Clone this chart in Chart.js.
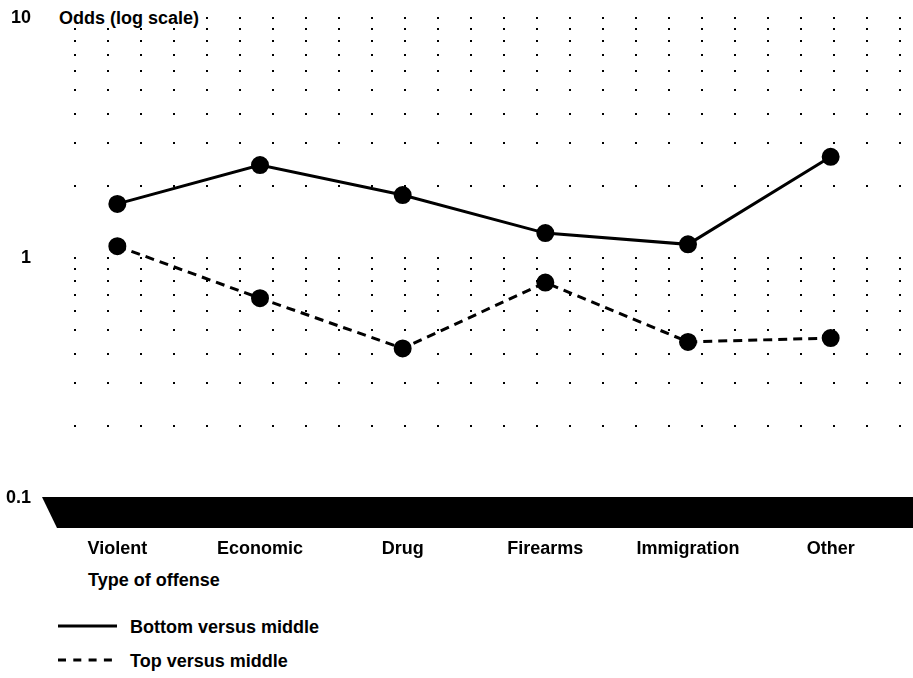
<!DOCTYPE html>
<html>
<head>
<meta charset="utf-8">
<script src="https://cdn.jsdelivr.net/npm/chart.js@4/dist/chart.umd.min.js"></script>
<style>
  body { margin: 0; background: #fff; font-family: "Liberation Sans", Arial, sans-serif; font-weight: bold; font-size: 18px; color: #000; }
  #wrap { position: absolute; left: 0; top: 0; width: 913px; height: 570px; }
  .txt { position: absolute; line-height: 20px; white-space: nowrap; }
  #ytitle { left: 40px; top: 8px; padding-left: 19px; padding-right: 6px; background: #fff; }
  #xtitle { left: 88px; top: 570px; }
  .leg { position: absolute; left: 58px; height: 20px; }
  .leg svg { position: absolute; left: 0; top: 0; }
  .leg span { position: absolute; left: 72px; top: 0; line-height: 20px; white-space: nowrap; }
</style>
</head>
<body>
<div id="wrap"><canvas id="oddsChart"></canvas></div>
<div class="txt" id="ytitle">Odds (log scale)</div>
<div class="txt" id="xtitle">Type of offense</div>
<div class="leg" style="top:617px">
  <svg width="60" height="20"><line x1="0" y1="9" x2="59" y2="9" stroke="#000" stroke-width="3"/></svg>
  <span>Bottom versus middle</span>
</div>
<div class="leg" style="top:651px">
  <svg width="60" height="20"><line x1="0" y1="9" x2="59" y2="9" stroke="#000" stroke-width="3" stroke-dasharray="8 7.3"/></svg>
  <span>Top versus middle</span>
</div>
<script>
// Odds by type of offense (log scale)
const offenses = ["Violent", "Economic", "Drug", "Firearms", "Immigration", "Other"];
const bottomVsMiddle = [1.68, 2.44, 1.83, 1.27, 1.14, 2.64];
const topVsMiddle = [1.12, 0.68, 0.42, 0.79, 0.447, 0.464];

// y ticks: every 1..9 step of each decade, labels only on the decades
const yTicks = [0.1, 0.2, 0.3, 0.4, 0.5, 0.6, 0.7, 0.8, 0.9, 1, 2, 3, 4, 5, 6, 7, 8, 9, 10];
const yLabels = { 0.1: "0.1", 1: "1", 10: "10" };

// thick black base band under the 0.1 line
const baseBand = {
    id: 'baseBand',
    beforeDatasetsDraw(chart) {
        const { ctx, chartArea, scales } = chart;
        const y0 = scales.y.getPixelForValue(0.1) - 1;
        ctx.save();
        ctx.fillStyle = '#000';
        ctx.beginPath();
        ctx.moveTo(chartArea.left - 4, y0);
        ctx.lineTo(chart.width, y0);
        ctx.lineTo(chart.width, y0 + 31);
        ctx.lineTo(chartArea.left + 11, y0 + 31);
        ctx.closePath();
        ctx.fill();
        ctx.restore();
    }
};

Chart.defaults.font.family = '"Liberation Sans", Arial, sans-serif';
Chart.defaults.font.size = 18;
Chart.defaults.font.weight = 'bold';
Chart.defaults.color = '#000';

new Chart(document.getElementById('oddsChart'), {
    type: 'line',
    data: {
        labels: offenses,
        datasets: [{
            label: 'Bottom versus middle',
            data: bottomVsMiddle,
            borderColor: '#000',
            backgroundColor: '#000',
            borderWidth: 3,
            pointRadius: 7.5,
            pointHoverRadius: 7.5,
            tension: 0
        }, {
            label: 'Top versus middle',
            data: topVsMiddle,
            borderColor: '#000',
            backgroundColor: '#000',
            borderWidth: 3,
            borderDash: [9, 6],
            pointRadius: 7.5,
            pointHoverRadius: 7.5,
            tension: 0
        }]
    },
    options: {
        responsive: true,
        maintainAspectRatio: false,
        animation: false,
        layout: { padding: { top: 18, right: 11, left: 0, bottom: 0 } },
        plugins: {
            legend: { display: false },
            tooltip: { enabled: false }
        },
        scales: {
            x: {
                offset: true,
                grid: { display: false, drawTicks: false },
                border: { display: false },
                ticks: { padding: 40, maxRotation: 0 },
                afterFit: s => { s.height = 72; }
            },
            y: {
                type: 'logarithmic',
                min: 0.1,
                max: 10,
                afterBuildTicks: s => { s.ticks = yTicks.map(v => ({ value: v })); },
                afterFit: s => {
                    s.width = 46;
                    s.paddingTop = 0;
                    s.paddingBottom = 0;
                },
                ticks: {
                    padding: 15,
                    autoSkip: false,
                    callback: v => yLabels[v] || ''
                },
                grid: {
                    color: '#000',
                    lineWidth: 2,
                    drawTicks: false
                },
                // in v4 the grid line dash lives on the border options
                border: { display: false, dash: [2, 31], dashOffset: 5 }
            }
        }
    },
    plugins: [baseBand]
});
</script>
</body>
</html>
